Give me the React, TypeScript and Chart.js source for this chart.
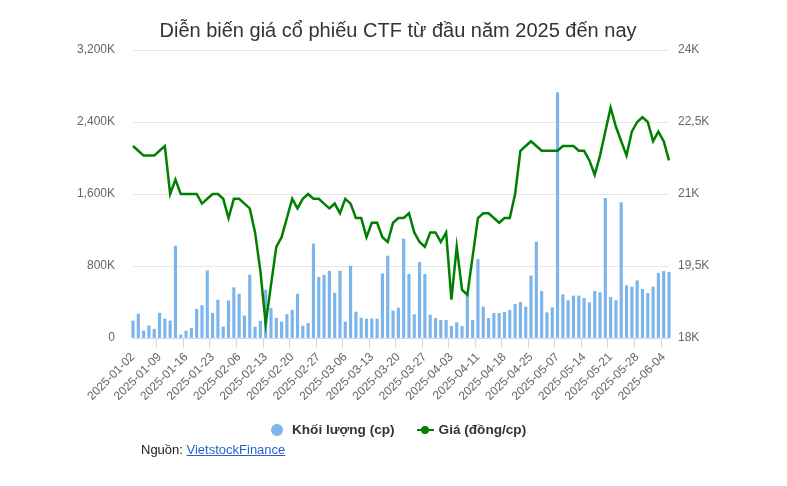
import React, { useEffect, useRef } from 'react';
import { Chart, registerables } from 'chart.js';

Chart.register(...registerables);

const FONT = '"Liberation Sans", Arial, Helvetica, sans-serif';

const TITLE = 'Diễn biến giá cổ phiếu CTF từ đầu năm 2025 đến nay';

// trading days, 2025-01-02 .. 2025-06-05
const dates = [
    '2025-01-02', '2025-01-03', '2025-01-06', '2025-01-07', '2025-01-08', '2025-01-09', '2025-01-10',
    '2025-01-13', '2025-01-14', '2025-01-15', '2025-01-16', '2025-01-17', '2025-01-20', '2025-01-21',
    '2025-01-22', '2025-01-23', '2025-01-24',
    '2025-02-03', '2025-02-04', '2025-02-05', '2025-02-06', '2025-02-07', '2025-02-10', '2025-02-11',
    '2025-02-12', '2025-02-13', '2025-02-14', '2025-02-17', '2025-02-18', '2025-02-19', '2025-02-20',
    '2025-02-21', '2025-02-24', '2025-02-25', '2025-02-26', '2025-02-27', '2025-02-28',
    '2025-03-03', '2025-03-04', '2025-03-05', '2025-03-06', '2025-03-07', '2025-03-10', '2025-03-11',
    '2025-03-12', '2025-03-13', '2025-03-14', '2025-03-17', '2025-03-18', '2025-03-19', '2025-03-20',
    '2025-03-21', '2025-03-24', '2025-03-25', '2025-03-26', '2025-03-27', '2025-03-28', '2025-03-31',
    '2025-04-01', '2025-04-02', '2025-04-03', '2025-04-04', '2025-04-08', '2025-04-09', '2025-04-10',
    '2025-04-11', '2025-04-14', '2025-04-15', '2025-04-16', '2025-04-17', '2025-04-18', '2025-04-21',
    '2025-04-22', '2025-04-23', '2025-04-24', '2025-04-25', '2025-04-28', '2025-04-29',
    '2025-05-05', '2025-05-06', '2025-05-07', '2025-05-08', '2025-05-09', '2025-05-12', '2025-05-13',
    '2025-05-14', '2025-05-15', '2025-05-16', '2025-05-19', '2025-05-20', '2025-05-21', '2025-05-22',
    '2025-05-23', '2025-05-26', '2025-05-27', '2025-05-28', '2025-05-29', '2025-05-30',
    '2025-06-02', '2025-06-03', '2025-06-04', '2025-06-05',
];

// Khối lượng, nghìn cp
const volumeK = [
    190, 265, 78, 135, 97, 276, 212, 190, 1022, 34,
    78, 109, 320, 361, 748, 276, 422, 124, 413, 559,
    487, 246, 700, 122, 187, 533, 331, 220, 178, 261,
    309, 487, 134, 163, 1046, 674, 698, 744, 500, 744,
    178, 798, 289, 222, 211, 211, 211, 713, 911, 300,
    333, 1100, 707, 259, 840, 707, 255, 218, 196, 196,
    130, 170, 130, 490, 196, 873, 344, 218, 274, 274,
    285, 307, 374, 396, 344, 690, 1067, 519, 281, 337,
    2726, 481, 415, 467, 467, 441, 393, 519, 504, 1552,
    452, 415, 1504, 581, 567, 637, 541, 496, 567, 719,
    741, 730,
];

// Giá, đồng/cp
const price = [
    22000, 21900, 21800, 21800, 21800, 21900, 22000, 21000, 21300, 21000,
    21000, 21000, 21000, 20800, 20900, 21000, 21000, 20900, 20500, 20900,
    20900, 20800, 20700, 20200, 19400, 18300, 19100, 19900, 20100, 20500,
    20900, 20700, 20900, 21000, 20900, 20900, 20800, 20700, 20800, 20600,
    20900, 20800, 20500, 20500, 20100, 20400, 20400, 20100, 20000, 20400,
    20500, 20500, 20600, 20200, 20000, 19900, 20200, 20200, 20000, 20200,
    18800, 19900, 19000, 18900, 19700, 20500, 20600, 20600, 20500, 20400,
    20500, 20500, 21000, 21900, 22000, 22100, 22000, 21900, 21900, 21900,
    21900, 22000, 22000, 22000, 21900, 21900, 21700, 21400, 21800, 22300,
    22800, 22400, 22100, 21800, 22300, 22500, 22600, 22500, 22100, 22300,
    22100, 21700,
];

const volumeAxis = { min: 0, max: 3200, step: 800 };
const priceAxis = { min: 18000, max: 24000, step: 1500 };

export default function App() {
    const canvasRef = useRef<HTMLCanvasElement>(null);

    useEffect(() => {
        if (!canvasRef.current) return;

        const chart = new Chart(canvasRef.current, {
            data: {
                labels: dates,
                datasets: [
                    {
                        type: 'line',
                        label: 'Giá (đồng/cp)',
                        data: price,
                        yAxisID: 'y1',
                        borderColor: '#008000',
                        borderWidth: 2.5,
                        pointRadius: 0,
                        tension: 0,
                        order: 0,
                    },
                    {
                        type: 'bar',
                        label: 'Khối lượng (cp)',
                        data: volumeK,
                        yAxisID: 'y',
                        backgroundColor: '#7cb5ec',
                        barThickness: 2.5,
                        order: 1,
                        clip: false,
                    },
                ],
            } as any,
            options: {
                responsive: false,
                animation: false,
                layout: { padding: { left: 9, right: 0, top: 0, bottom: 0 } },
                plugins: {
                    legend: { display: false },
                    tooltip: { enabled: false },
                    title: {
                        display: true,
                        text: TITLE,
                        color: '#333333',
                        font: { family: FONT, size: 20, weight: 'normal' },
                        padding: { top: 19, bottom: 7 },
                    },
                },
                scales: {
                    x: {
                        offset: false,
                        grid: {
                            drawOnChartArea: false,
                            drawTicks: true,
                            tickLength: 10,
                            color: (c: any) => (c.index % 5 === 0 ? '#ccd6eb' : 'rgba(0,0,0,0)'),
                        },
                        border: { color: '#ccd6eb' },
                        ticks: {
                            autoSkip: false,
                            maxRotation: 45,
                            minRotation: 45,
                            padding: 2,
                            color: '#666666',
                            font: { family: FONT, size: 12 },
                            callback: (_v: any, i: number) => (i % 5 === 0 ? dates[i] : ''),
                        },
                        afterFit: (s: any) => { s.height = 148; },
                    },
                    y: {
                        position: 'left',
                        min: volumeAxis.min,
                        max: volumeAxis.max,
                        grid: { color: '#e6e6e6', drawTicks: false },
                        border: { display: false },
                        ticks: {
                            stepSize: volumeAxis.step,
                            padding: 18,
                            color: '#666666',
                            font: { family: FONT, size: 12 },
                            callback: (v: any) => (v === 0 ? '0' : `${Number(v).toLocaleString('en-US')}K`),
                        },
                        afterFit: (s: any) => { s.width = 124; },
                    },
                    y1: {
                        position: 'right',
                        min: priceAxis.min,
                        max: priceAxis.max,
                        grid: { display: false, drawTicks: false },
                        border: { display: false },
                        ticks: {
                            stepSize: priceAxis.step,
                            padding: 9,
                            color: '#666666',
                            font: { family: FONT, size: 12 },
                            callback: (v: any) => `${String(Number(v) / 1000).replace('.', ',')}K`,
                        },
                        afterFit: (s: any) => { s.width = 118; },
                    },
                },
            } as any,
        });

        return () => chart.destroy();
    }, []);

    return (
        <div style={{ position: 'absolute', left: 0, top: 0, width: 787, height: 486, background: '#fff', fontFamily: FONT }}>
            <canvas ref={canvasRef} width={787} height={486} style={{ display: 'block' }} />
            <div style={{ position: 'absolute', left: 271, top: 421, display: 'flex', alignItems: 'center', fontSize: 13.6, fontWeight: 'bold', color: '#333333', lineHeight: '18px', whiteSpace: 'nowrap' }}>
                <span style={{ width: 12, height: 12, borderRadius: 6, background: '#7cb5ec', marginRight: 9 }}></span>
                <span>Khối lượng (cp)</span>
                <span style={{ position: 'relative', width: 17, height: 12, marginLeft: 22, marginRight: 5 }}>
                    <span style={{ position: 'absolute', left: 0, top: 5, width: 17, height: 2, background: '#008000' }}></span>
                    <span style={{ position: 'absolute', left: 4.5, top: 2, width: 8, height: 8, borderRadius: 4, background: '#008000' }}></span>
                </span>
                <span>Giá (đồng/cp)</span>
            </div>
            <div style={{ position: 'absolute', left: 141, top: 441, fontSize: 13, color: '#222222', lineHeight: '17px' }}>
                Nguồn: <span style={{ color: '#2a62c9', textDecoration: 'underline' }}>VietstockFinance</span>
            </div>
        </div>
    );
}
